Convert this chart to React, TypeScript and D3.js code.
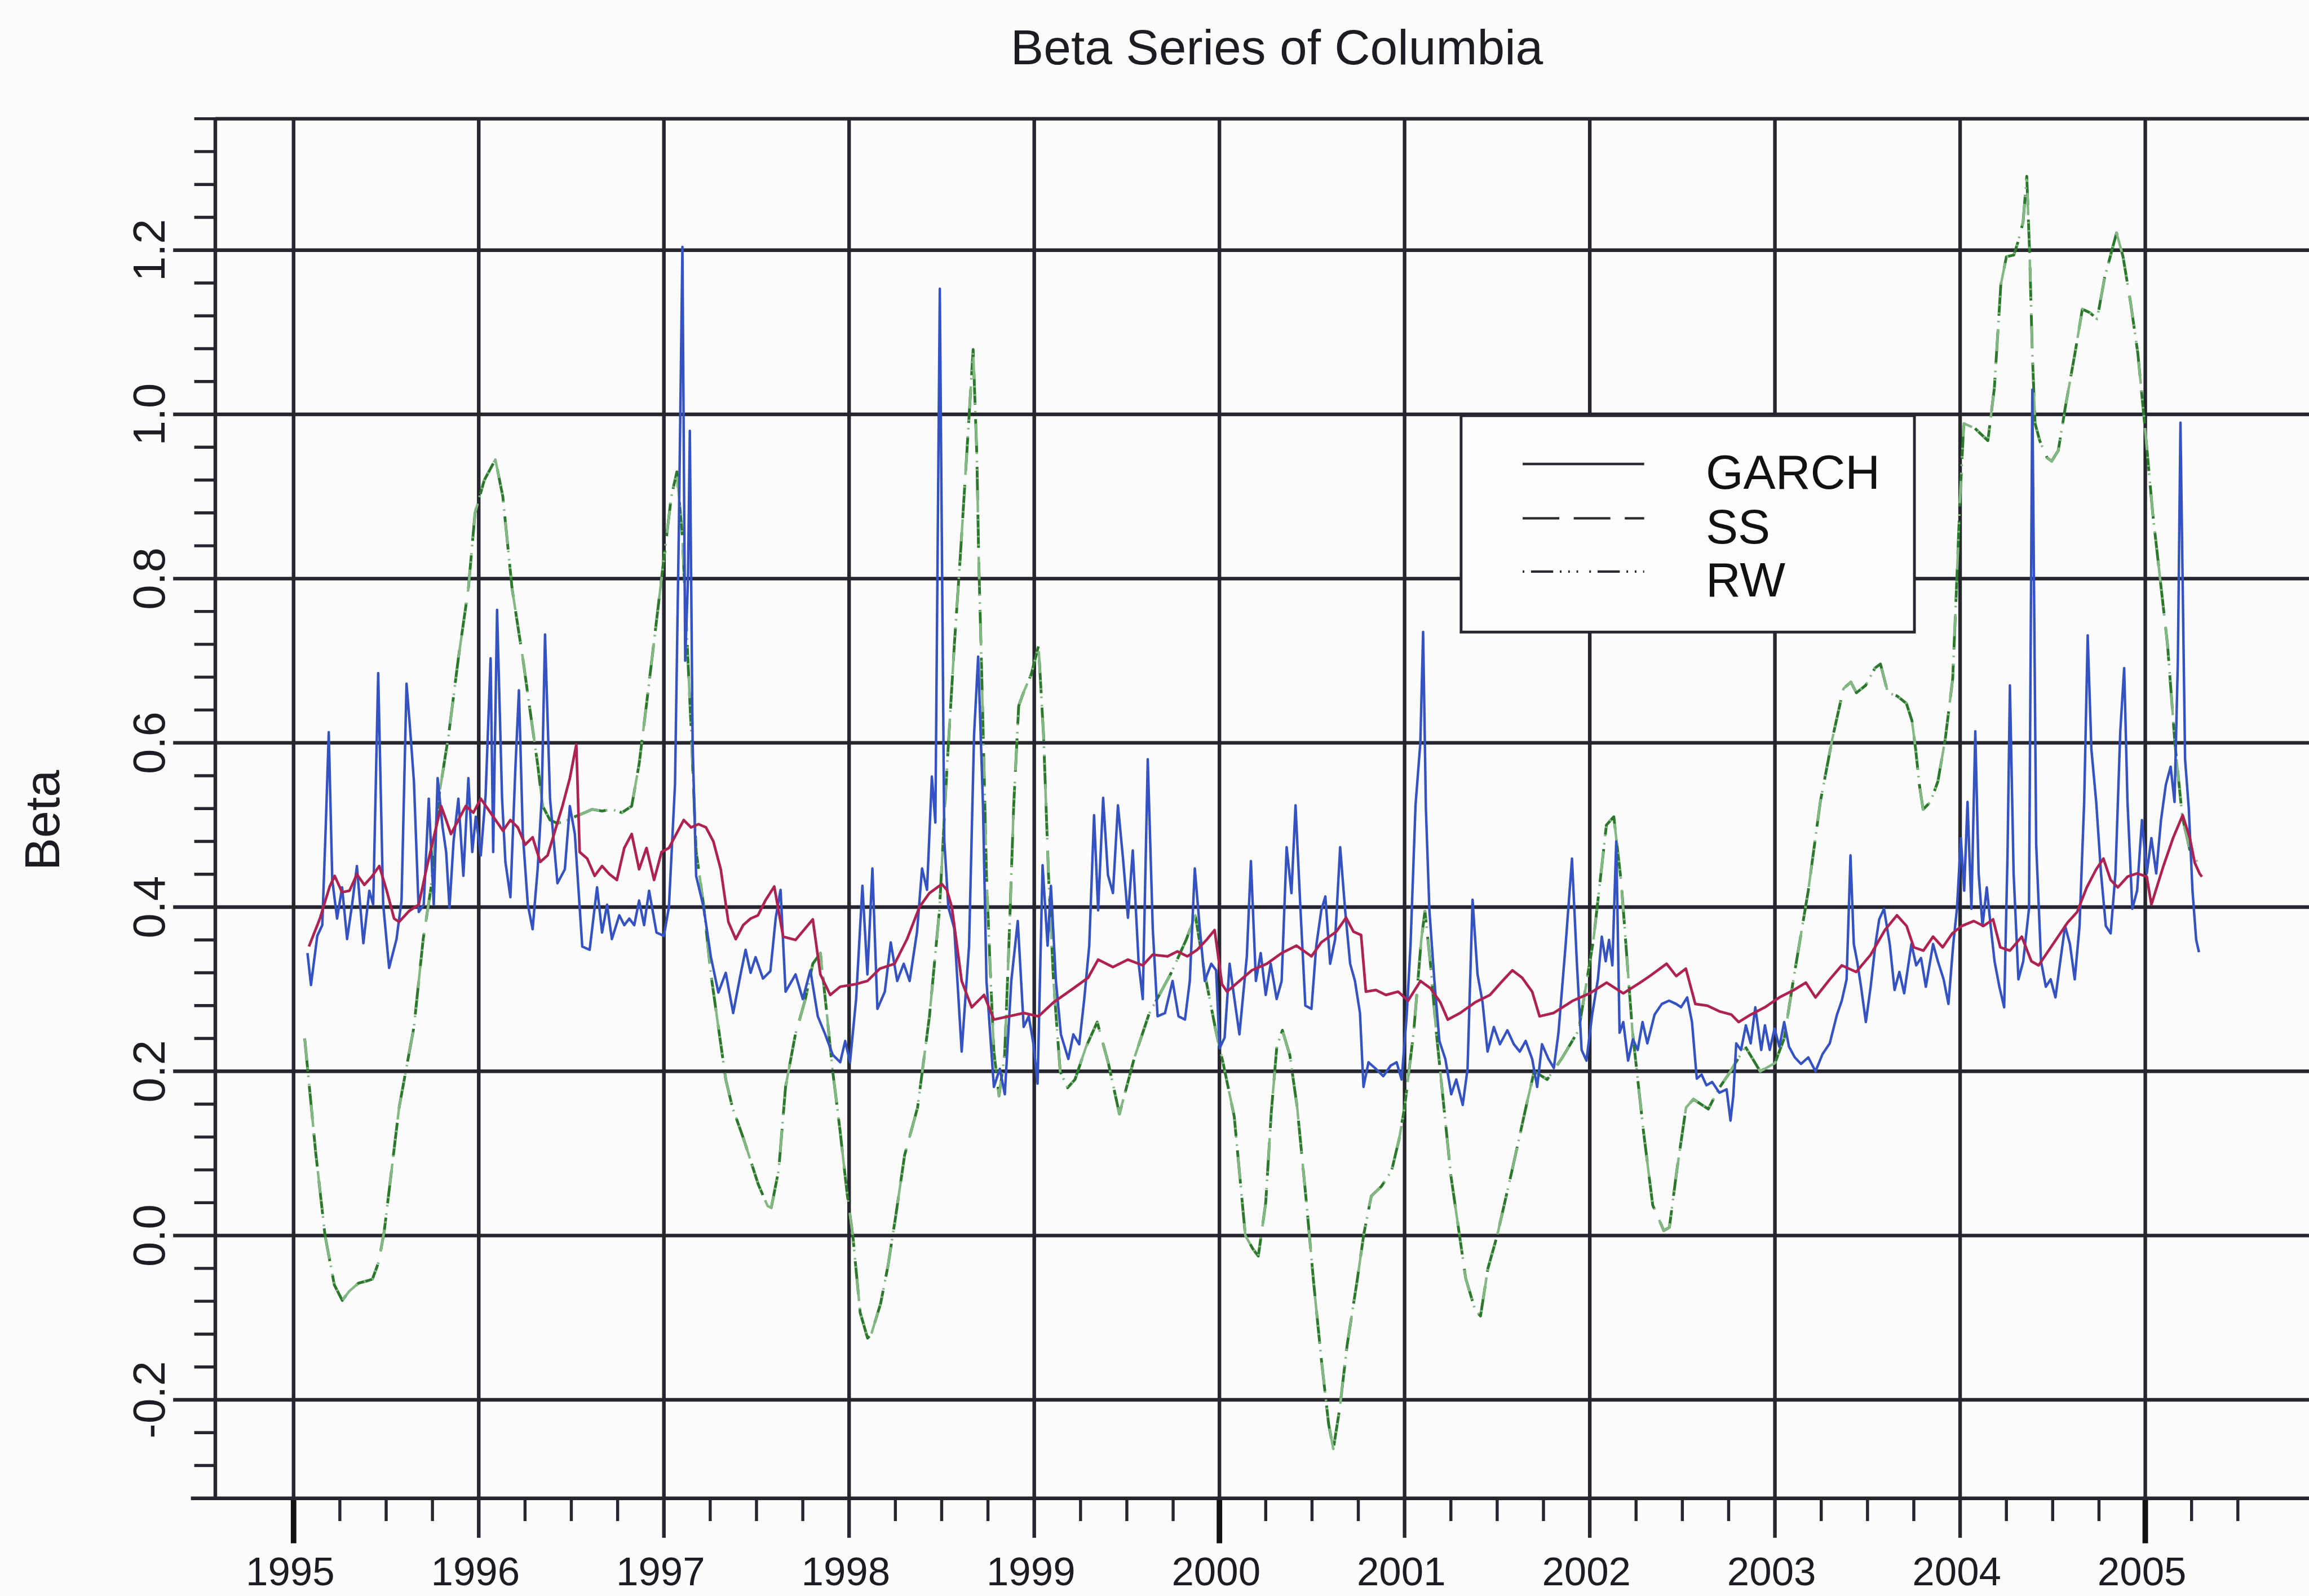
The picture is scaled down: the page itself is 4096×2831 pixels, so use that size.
import React from "react";
import * as d3 from "d3";

// Drawing units: the chart is laid out on a 4161 x 2876 canvas and scaled to the window.
const VIEW_W = 4161;
const VIEW_H = 2876;
const OUT_W = 4096;
const OUT_H = 2831;

const yearTicks = [1995, 1996, 1997, 1998, 1999, 2000, 2001, 2002, 2003, 2004, 2005];
const boldYears = [1995, 2000, 2005];
const betaTicks = [-0.2, 0.0, 0.2, 0.4, 0.6, 0.8, 1.0, 1.2];
const legendLabels = ["GARCH", "SS", "RW"];

// GARCH beta, [decimal year, beta]
const garchBeta: [number, number][] = [
  [1995.075,0.344],[1995.094,0.305],[1995.128,0.365],[1995.155,0.378],[1995.174,0.50],[1995.190,0.613],[1995.209,0.433],[1995.235,0.386],[1995.262,0.424],[1995.289,0.361],[1995.316,0.403],[1995.342,0.45],[1995.377,0.356],[1995.409,0.42],[1995.430,0.403],[1995.457,0.685],[1995.484,0.403],[1995.516,0.326],[1995.556,0.361],[1995.583,0.408],[1995.610,0.672],[1995.628,0.621],[1995.650,0.553],[1995.676,0.394],[1995.703,0.403],[1995.730,0.532],[1995.757,0.403],[1995.778,0.557],[1995.805,0.497],[1995.824,0.467],[1995.842,0.399],[1995.864,0.48],[1995.890,0.532],[1995.917,0.438],[1995.944,0.557],[1995.965,0.467],[1995.984,0.51],
  [1996.011,0.463],[1996.037,0.536],[1996.064,0.703],[1996.078,0.467],[1996.099,0.762],[1996.126,0.532],[1996.144,0.455],[1996.171,0.412],[1996.198,0.57],[1996.217,0.664],[1996.238,0.489],[1996.265,0.403],[1996.291,0.373],[1996.318,0.446],[1996.340,0.532],[1996.358,0.732],[1996.385,0.532],[1996.425,0.429],[1996.465,0.446],[1996.492,0.523],[1996.519,0.489],[1996.559,0.352],[1996.599,0.348],[1996.639,0.424],[1996.666,0.369],[1996.693,0.403],[1996.719,0.361],[1996.759,0.39],[1996.786,0.378],[1996.813,0.386],[1996.840,0.378],[1996.866,0.408],[1996.893,0.378],[1996.920,0.42],[1996.960,0.369],
  [1997.000,0.365],[1997.027,0.40],[1997.060,0.55],[1997.080,0.85],[1997.100,1.204],[1997.115,0.70],[1997.130,0.80],[1997.140,0.98],[1997.155,0.60],[1997.174,0.438],[1997.214,0.40],[1997.254,0.339],[1997.294,0.296],[1997.334,0.32],[1997.374,0.271],[1997.414,0.318],[1997.441,0.348],[1997.468,0.32],[1997.495,0.339],[1997.535,0.313],[1997.575,0.322],[1997.604,0.387],[1997.630,0.421],[1997.657,0.297],[1997.711,0.318],[1997.750,0.288],[1997.791,0.323],[1997.831,0.267],[1997.871,0.245],[1997.912,0.22],[1997.952,0.211],[1997.979,0.237],
  [1998.005,0.211],[1998.038,0.288],[1998.072,0.426],[1998.099,0.318],[1998.126,0.447],[1998.153,0.276],[1998.193,0.297],[1998.225,0.357],[1998.260,0.31],[1998.295,0.331],[1998.327,0.31],[1998.367,0.37],[1998.394,0.447],[1998.421,0.421],[1998.447,0.559],[1998.466,0.503],[1998.490,1.153],[1998.514,0.482],[1998.536,0.40],[1998.568,0.374],[1998.608,0.224],[1998.648,0.353],[1998.675,0.61],[1998.697,0.705],[1998.723,0.524],[1998.742,0.31],[1998.782,0.181],[1998.814,0.203],[1998.841,0.172],[1998.876,0.31],[1998.911,0.383],[1998.943,0.254],[1998.970,0.267],[1998.996,0.233],
  [1999.018,0.185],[1999.045,0.451],[1999.072,0.353],[1999.090,0.426],[1999.117,0.31],[1999.144,0.245],[1999.184,0.215],[1999.211,0.245],[1999.243,0.233],[1999.270,0.288],[1999.297,0.353],[1999.323,0.512],[1999.345,0.396],[1999.372,0.533],[1999.398,0.439],[1999.425,0.417],[1999.452,0.524],[1999.479,0.46],[1999.506,0.387],[1999.532,0.469],[1999.564,0.331],[1999.586,0.288],[1999.613,0.58],[1999.640,0.374],[1999.666,0.267],[1999.706,0.271],[1999.747,0.31],[1999.779,0.267],[1999.814,0.263],[1999.840,0.31],[1999.867,0.447],[1999.894,0.374],[1999.921,0.31],[1999.956,0.331],[1999.982,0.323],
  [2000.001,0.228],[2000.028,0.241],[2000.055,0.331],[2000.081,0.288],[2000.108,0.245],[2000.148,0.34],[2000.170,0.456],[2000.197,0.31],[2000.223,0.344],[2000.250,0.293],[2000.277,0.331],[2000.309,0.288],[2000.336,0.31],[2000.363,0.473],[2000.389,0.417],[2000.411,0.524],[2000.438,0.396],[2000.464,0.28],[2000.497,0.276],[2000.523,0.353],[2000.550,0.396],[2000.572,0.413],[2000.598,0.331],[2000.625,0.361],[2000.652,0.473],[2000.679,0.396],[2000.706,0.331],[2000.732,0.31],[2000.759,0.271],[2000.778,0.181],[2000.805,0.211],[2000.845,0.203],[2000.885,0.194],[2000.925,0.207],[2000.957,0.211],[2000.984,0.19],
  [2001.011,0.267],[2001.032,0.353],[2001.059,0.524],[2001.085,0.60],[2001.100,0.735],[2001.115,0.52],[2001.134,0.396],[2001.161,0.31],[2001.188,0.237],[2001.220,0.215],[2001.252,0.172],[2001.279,0.19],[2001.314,0.159],[2001.340,0.203],[2001.367,0.409],[2001.394,0.318],[2001.421,0.284],[2001.448,0.224],[2001.482,0.254],[2001.515,0.233],[2001.555,0.25],[2001.590,0.233],[2001.622,0.224],[2001.654,0.237],[2001.689,0.215],[2001.716,0.181],[2001.742,0.233],[2001.777,0.215],[2001.806,0.204],[2001.831,0.247],[2001.870,0.355],[2001.904,0.459],[2001.930,0.334],[2001.956,0.226],[2001.982,0.213],
  [2002.013,0.269],[2002.044,0.312],[2002.065,0.364],[2002.086,0.334],[2002.104,0.36],[2002.122,0.329],[2002.143,0.48],[2002.161,0.247],[2002.181,0.26],[2002.207,0.213],[2002.233,0.239],[2002.259,0.226],[2002.285,0.26],[2002.311,0.234],[2002.350,0.269],[2002.389,0.282],[2002.428,0.286],[2002.467,0.282],[2002.493,0.278],[2002.526,0.29],[2002.552,0.26],[2002.578,0.191],[2002.604,0.196],[2002.630,0.183],[2002.661,0.187],[2002.700,0.174],[2002.739,0.178],[2002.760,0.14],[2002.775,0.17],[2002.791,0.234],[2002.817,0.226],[2002.843,0.256],[2002.869,0.234],[2002.894,0.278],[2002.926,0.226],[2002.946,0.256],[2002.972,0.226],[2002.998,0.252],
  [2003.024,0.23],[2003.050,0.26],[2003.076,0.23],[2003.107,0.217],[2003.141,0.209],[2003.180,0.217],[2003.219,0.2],[2003.257,0.221],[2003.296,0.234],[2003.335,0.269],[2003.361,0.286],[2003.387,0.312],[2003.408,0.463],[2003.426,0.355],[2003.444,0.334],[2003.465,0.303],[2003.491,0.26],[2003.517,0.303],[2003.543,0.355],[2003.563,0.385],[2003.589,0.398],[2003.620,0.355],[2003.646,0.299],[2003.672,0.321],[2003.698,0.295],[2003.737,0.355],[2003.763,0.329],[2003.789,0.338],[2003.815,0.303],[2003.854,0.355],[2003.880,0.334],[2003.911,0.312],[2003.937,0.282],[2003.963,0.355],[2003.983,0.398],
  [2004.004,0.484],[2004.022,0.42],[2004.040,0.528],[2004.061,0.398],[2004.082,0.614],[2004.100,0.441],[2004.121,0.377],[2004.144,0.424],[2004.165,0.377],[2004.186,0.334],[2004.212,0.303],[2004.238,0.278],[2004.256,0.463],[2004.269,0.67],[2004.289,0.441],[2004.315,0.312],[2004.341,0.334],[2004.372,0.398],[2004.390,1.03],[2004.411,0.476],[2004.437,0.334],[2004.463,0.303],[2004.489,0.312],[2004.515,0.29],[2004.541,0.334],[2004.567,0.377],[2004.593,0.355],[2004.619,0.312],[2004.645,0.377],[2004.670,0.528],[2004.689,0.731],[2004.709,0.592],[2004.735,0.528],[2004.761,0.441],[2004.787,0.377],[2004.813,0.368],[2004.839,0.441],[2004.865,0.614],[2004.886,0.691],[2004.904,0.528],[2004.930,0.398],[2004.956,0.42],[2004.982,0.506],
  [2005.008,0.441],[2005.033,0.484],[2005.059,0.441],[2005.085,0.506],[2005.111,0.549],[2005.137,0.571],[2005.158,0.528],[2005.176,0.70],[2005.190,0.99],[2005.215,0.58],[2005.235,0.52],[2005.255,0.42],[2005.275,0.36],[2005.290,0.345],
];

// Rolling-window beta (crimson curve), [decimal year, beta]
const rollingBeta: [number, number][] = [
  [1995.083,0.352],[1995.142,0.386],[1995.195,0.425],[1995.222,0.438],[1995.262,0.418],[1995.302,0.42],[1995.342,0.44],[1995.382,0.427],[1995.422,0.437],[1995.463,0.45],[1995.503,0.42],[1995.543,0.386],[1995.570,0.382],[1995.623,0.395],[1995.676,0.403],[1995.717,0.446],[1995.757,0.485],[1995.797,0.523],[1995.824,0.506],[1995.850,0.489],[1995.890,0.506],[1995.930,0.523],[1995.971,0.515],
  [1996.011,0.532],[1996.051,0.519],[1996.091,0.506],[1996.131,0.493],[1996.171,0.506],[1996.211,0.497],[1996.251,0.476],[1996.291,0.485],[1996.332,0.455],[1996.372,0.463],[1996.412,0.493],[1996.452,0.523],[1996.492,0.557],[1996.527,0.598],[1996.545,0.467],[1996.586,0.459],[1996.626,0.438],[1996.666,0.45],[1996.706,0.44],[1996.746,0.433],[1996.786,0.472],[1996.826,0.489],[1996.866,0.446],[1996.906,0.472],[1996.947,0.433],[1996.987,0.467],
  [1997.027,0.472],[1997.067,0.489],[1997.107,0.506],[1997.147,0.497],[1997.187,0.501],[1997.227,0.497],[1997.267,0.48],[1997.307,0.446],[1997.348,0.382],[1997.388,0.361],[1997.428,0.378],[1997.468,0.386],[1997.508,0.39],[1997.548,0.408],[1997.596,0.425],[1997.644,0.364],[1997.711,0.36],[1997.804,0.385],[1997.845,0.318],[1997.898,0.293],[1997.952,0.303],
  [1998.032,0.306],[1998.099,0.31],[1998.166,0.325],[1998.246,0.331],[1998.313,0.361],[1998.380,0.40],[1998.434,0.417],[1998.501,0.428],[1998.528,0.421],[1998.555,0.40],[1998.608,0.31],[1998.662,0.278],[1998.729,0.293],[1998.782,0.263],[1998.863,0.267],[1998.943,0.271],
  [1999.023,0.267],[1999.104,0.284],[1999.211,0.301],[1999.291,0.314],[1999.345,0.336],[1999.425,0.327],[1999.506,0.336],[1999.586,0.329],[1999.639,0.342],[1999.720,0.34],[1999.773,0.346],[1999.827,0.34],[1999.880,0.348],[1999.934,0.361],[1999.974,0.372],
  [2000.014,0.306],[2000.041,0.297],[2000.108,0.31],[2000.175,0.323],[2000.256,0.331],[2000.336,0.344],[2000.416,0.353],[2000.497,0.34],[2000.550,0.357],[2000.631,0.37],[2000.684,0.387],[2000.724,0.37],[2000.765,0.366],[2000.791,0.297],[2000.845,0.299],[2000.899,0.293],[2000.965,0.297],
  [2001.019,0.286],[2001.086,0.31],[2001.140,0.301],[2001.193,0.284],[2001.233,0.263],[2001.300,0.271],[2001.381,0.284],[2001.461,0.293],[2001.528,0.31],[2001.582,0.323],[2001.635,0.314],[2001.689,0.297],[2001.729,0.267],[2001.804,0.271],[2001.909,0.286],
  [2002.000,0.295],[2002.091,0.308],[2002.181,0.295],[2002.272,0.308],[2002.324,0.316],[2002.415,0.331],[2002.467,0.316],[2002.519,0.325],[2002.570,0.282],[2002.635,0.28],[2002.700,0.273],[2002.765,0.269],[2002.804,0.26],[2002.869,0.269],[2002.946,0.278],
  [2003.024,0.29],[2003.102,0.299],[2003.167,0.308],[2003.219,0.29],[2003.296,0.312],[2003.361,0.329],[2003.439,0.321],[2003.517,0.342],[2003.594,0.372],[2003.659,0.39],[2003.711,0.377],[2003.750,0.351],[2003.802,0.347],[2003.854,0.364],[2003.906,0.351],[2003.958,0.368],
  [2004.009,0.377],[2004.074,0.383],[2004.126,0.377],[2004.178,0.385],[2004.217,0.351],[2004.269,0.347],[2004.333,0.364],[2004.385,0.334],[2004.424,0.329],[2004.502,0.355],[2004.580,0.381],[2004.632,0.394],[2004.684,0.424],[2004.735,0.446],[2004.774,0.459],[2004.813,0.433],[2004.852,0.424],[2004.904,0.437],[2004.956,0.441],
  [2005.008,0.437],[2005.033,0.403],[2005.098,0.45],[2005.150,0.484],[2005.202,0.512],[2005.241,0.484],[2005.267,0.454],[2005.293,0.441],[2005.306,0.437],
];

// SS beta (dashed), [decimal year, beta]
const ssBeta: [number, number][] = [
  [1995.060,0.24],[1995.120,0.10],[1995.170,0.0],[1995.220,-0.06],[1995.263,-0.079],[1995.300,-0.068],[1995.350,-0.058],[1995.400,-0.055],[1995.426,-0.053],[1995.460,-0.032],[1995.490,0.006],[1995.530,0.081],[1995.570,0.156],[1995.650,0.254],[1995.700,0.361],[1995.743,0.425],[1995.783,0.532],[1995.837,0.609],[1995.890,0.703],[1995.944,0.788],[1995.980,0.88],
  [1996.030,0.92],[1996.090,0.945],[1996.130,0.90],[1996.180,0.788],[1996.238,0.703],[1996.278,0.638],[1996.318,0.574],[1996.345,0.523],[1996.385,0.506],[1996.425,0.502],[1996.479,0.506],[1996.519,0.51],[1996.572,0.515],[1996.612,0.519],[1996.666,0.517],[1996.719,0.519],[1996.773,0.515],[1996.826,0.523],[1996.866,0.574],[1996.906,0.647],[1996.947,0.724],[1996.987,0.80],
  [1997.040,0.90],[1997.070,0.93],[1997.100,0.85],[1997.130,0.70],[1997.147,0.617],[1997.174,0.468],[1997.214,0.403],[1997.254,0.318],[1997.294,0.254],[1997.334,0.19],[1997.370,0.156],[1997.430,0.118],[1997.510,0.062],[1997.560,0.036],[1997.580,0.034],[1997.620,0.08],[1997.657,0.181],[1997.710,0.245],[1997.764,0.288],[1997.804,0.331],[1997.845,0.344],[1997.880,0.27],[1997.910,0.203],[1997.950,0.13],[1997.990,0.05],
  [1998.020,0.0],[1998.060,-0.094],[1998.100,-0.125],[1998.120,-0.12],[1998.170,-0.083],[1998.210,-0.037],[1998.250,0.021],[1998.300,0.098],[1998.370,0.156],[1998.434,0.267],[1998.488,0.396],[1998.528,0.567],[1998.568,0.718],[1998.600,0.825],[1998.635,0.95],[1998.670,1.079],[1998.690,0.95],[1998.700,0.825],[1998.715,0.696],[1998.729,0.567],[1998.742,0.439],[1998.761,0.331],[1998.782,0.224],[1998.810,0.17],[1998.840,0.22],[1998.863,0.353],[1998.889,0.524],[1998.916,0.645],[1998.943,0.662],[1998.983,0.683],
  [1999.023,0.718],[1999.050,0.61],[1999.077,0.439],[1999.104,0.31],[1999.140,0.20],[1999.180,0.18],[1999.220,0.19],[1999.280,0.23],[1999.340,0.26],[1999.400,0.21],[1999.460,0.148],[1999.540,0.216],[1999.620,0.27],[1999.740,0.32],[1999.820,0.36],[1999.870,0.39],[1999.920,0.32],[1999.980,0.25],
  [2000.020,0.21],[2000.080,0.145],[2000.140,0.0],[2000.180,-0.016],[2000.210,-0.025],[2000.250,0.04],[2000.280,0.15],[2000.310,0.23],[2000.340,0.25],[2000.380,0.22],[2000.420,0.156],[2000.470,0.04],[2000.510,-0.06],[2000.550,-0.15],[2000.590,-0.23],[2000.615,-0.26],[2000.650,-0.21],[2000.690,-0.133],[2000.743,-0.056],[2000.780,0.002],[2000.820,0.048],[2000.875,0.06],[2000.930,0.079],[2000.970,0.117],
  [2001.000,0.156],[2001.050,0.25],[2001.090,0.36],[2001.110,0.395],[2001.140,0.33],[2001.170,0.25],[2001.250,0.073],[2001.330,-0.052],[2001.380,-0.09],[2001.410,-0.098],[2001.450,-0.04],[2001.500,0.0],[2001.580,0.079],[2001.655,0.156],[2001.700,0.20],[2001.770,0.19],[2001.850,0.216],[2001.940,0.25],
  [2002.020,0.36],[2002.090,0.50],[2002.130,0.51],[2002.170,0.43],[2002.230,0.25],[2002.290,0.127],[2002.340,0.037],[2002.400,0.006],[2002.430,0.01],[2002.470,0.079],[2002.520,0.156],[2002.560,0.166],[2002.640,0.154],[2002.700,0.18],[2002.760,0.20],[2002.840,0.23],[2002.920,0.20],
  [2003.000,0.21],[2003.050,0.24],[2003.100,0.312],[2003.180,0.42],[2003.245,0.528],[2003.310,0.605],[2003.370,0.666],[2003.410,0.674],[2003.440,0.661],[2003.490,0.67],[2003.540,0.691],[2003.570,0.696],[2003.610,0.661],[2003.660,0.657],[2003.710,0.648],[2003.740,0.627],[2003.760,0.592],[2003.780,0.549],[2003.800,0.519],[2003.840,0.528],[2003.880,0.553],[2003.920,0.605],[2003.960,0.678],[2003.980,0.786],
  [2004.000,0.90],[2004.020,0.989],[2004.080,0.983],[2004.150,0.968],[2004.185,1.032],[2004.220,1.158],[2004.250,1.192],[2004.290,1.194],[2004.310,1.208],[2004.340,1.234],[2004.360,1.29],[2004.375,1.20],[2004.390,1.074],[2004.405,0.989],[2004.430,0.968],[2004.470,0.947],[2004.495,0.943],[2004.530,0.956],[2004.570,1.011],[2004.620,1.074],[2004.660,1.128],[2004.700,1.124],[2004.740,1.116],[2004.780,1.166],[2004.820,1.20],[2004.845,1.221],[2004.880,1.192],[2004.920,1.137],[2004.960,1.074],
  [2005.000,0.98],[2005.040,0.88],[2005.080,0.80],[2005.120,0.72],[2005.160,0.60],[2005.200,0.51],[2005.240,0.47],[2005.280,0.455],
];

// RW beta (dash-dot), [decimal year, beta]
const rwBeta: [number, number][] = [
  [1995.060,0.24],[1995.120,0.10],[1995.170,0.0],[1995.220,-0.06],[1995.263,-0.079],[1995.300,-0.068],[1995.350,-0.058],[1995.400,-0.055],[1995.426,-0.053],[1995.460,-0.032],[1995.490,0.006],[1995.530,0.081],[1995.570,0.156],[1995.650,0.254],[1995.700,0.361],[1995.743,0.425],[1995.783,0.532],[1995.837,0.609],[1995.890,0.703],[1995.944,0.788],[1995.980,0.88],
  [1996.030,0.92],[1996.090,0.945],[1996.130,0.90],[1996.180,0.788],[1996.238,0.703],[1996.278,0.638],[1996.318,0.574],[1996.345,0.523],[1996.385,0.506],[1996.425,0.502],[1996.479,0.506],[1996.519,0.51],[1996.572,0.515],[1996.612,0.519],[1996.666,0.517],[1996.719,0.519],[1996.773,0.515],[1996.826,0.523],[1996.866,0.574],[1996.906,0.647],[1996.947,0.724],[1996.987,0.80],
  [1997.040,0.90],[1997.070,0.93],[1997.100,0.85],[1997.130,0.70],[1997.147,0.617],[1997.174,0.468],[1997.214,0.403],[1997.254,0.318],[1997.294,0.254],[1997.334,0.19],[1997.370,0.156],[1997.430,0.118],[1997.510,0.062],[1997.560,0.036],[1997.580,0.034],[1997.620,0.08],[1997.657,0.181],[1997.710,0.245],[1997.764,0.288],[1997.804,0.331],[1997.845,0.344],[1997.880,0.27],[1997.910,0.203],[1997.950,0.13],[1997.990,0.05],
  [1998.020,0.0],[1998.060,-0.094],[1998.100,-0.125],[1998.120,-0.12],[1998.170,-0.083],[1998.210,-0.037],[1998.250,0.021],[1998.300,0.098],[1998.370,0.156],[1998.434,0.267],[1998.488,0.396],[1998.528,0.567],[1998.568,0.718],[1998.600,0.825],[1998.635,0.95],[1998.670,1.079],[1998.690,0.95],[1998.700,0.825],[1998.715,0.696],[1998.729,0.567],[1998.742,0.439],[1998.761,0.331],[1998.782,0.224],[1998.810,0.17],[1998.840,0.22],[1998.863,0.353],[1998.889,0.524],[1998.916,0.645],[1998.943,0.662],[1998.983,0.683],
  [1999.023,0.718],[1999.050,0.61],[1999.077,0.439],[1999.104,0.31],[1999.140,0.20],[1999.180,0.18],[1999.220,0.19],[1999.280,0.23],[1999.340,0.26],[1999.400,0.21],[1999.460,0.148],[1999.540,0.216],[1999.620,0.27],[1999.740,0.32],[1999.820,0.36],[1999.870,0.39],[1999.920,0.32],[1999.980,0.25],
  [2000.020,0.21],[2000.080,0.145],[2000.140,0.0],[2000.180,-0.016],[2000.210,-0.025],[2000.250,0.04],[2000.280,0.15],[2000.310,0.23],[2000.340,0.25],[2000.380,0.22],[2000.420,0.156],[2000.470,0.04],[2000.510,-0.06],[2000.550,-0.15],[2000.590,-0.23],[2000.615,-0.26],[2000.650,-0.21],[2000.690,-0.133],[2000.743,-0.056],[2000.780,0.002],[2000.820,0.048],[2000.875,0.06],[2000.930,0.079],[2000.970,0.117],
  [2001.000,0.156],[2001.050,0.25],[2001.090,0.36],[2001.110,0.395],[2001.140,0.33],[2001.170,0.25],[2001.250,0.073],[2001.330,-0.052],[2001.380,-0.09],[2001.410,-0.098],[2001.450,-0.04],[2001.500,0.0],[2001.580,0.079],[2001.655,0.156],[2001.700,0.20],[2001.770,0.19],[2001.850,0.216],[2001.940,0.25],
  [2002.020,0.36],[2002.090,0.50],[2002.130,0.51],[2002.170,0.43],[2002.230,0.25],[2002.290,0.127],[2002.340,0.037],[2002.400,0.006],[2002.430,0.01],[2002.470,0.079],[2002.520,0.156],[2002.560,0.166],[2002.640,0.154],[2002.700,0.18],[2002.760,0.20],[2002.840,0.23],[2002.920,0.20],
  [2003.000,0.21],[2003.050,0.24],[2003.100,0.312],[2003.180,0.42],[2003.245,0.528],[2003.310,0.605],[2003.370,0.666],[2003.410,0.674],[2003.440,0.661],[2003.490,0.67],[2003.540,0.691],[2003.570,0.696],[2003.610,0.661],[2003.660,0.657],[2003.710,0.648],[2003.740,0.627],[2003.760,0.592],[2003.780,0.549],[2003.800,0.519],[2003.840,0.528],[2003.880,0.553],[2003.920,0.605],[2003.960,0.678],[2003.980,0.786],
  [2004.000,0.90],[2004.020,0.989],[2004.080,0.983],[2004.150,0.968],[2004.185,1.032],[2004.220,1.158],[2004.250,1.192],[2004.290,1.194],[2004.310,1.208],[2004.340,1.234],[2004.360,1.29],[2004.375,1.20],[2004.390,1.074],[2004.405,0.989],[2004.430,0.968],[2004.470,0.947],[2004.495,0.943],[2004.530,0.956],[2004.570,1.011],[2004.620,1.074],[2004.660,1.128],[2004.700,1.124],[2004.740,1.116],[2004.780,1.166],[2004.820,1.20],[2004.845,1.221],[2004.880,1.192],[2004.920,1.137],[2004.960,1.074],
  [2005.000,0.98],[2005.040,0.88],[2005.080,0.80],[2005.120,0.72],[2005.160,0.60],[2005.200,0.51],[2005.240,0.47],[2005.280,0.455],
];

// Frame geometry
const PLOT_LEFT = 388;
const PLOT_TOP = 214;
const PLOT_BOTTOM = 2700;
const PLOT_RIGHT = VIEW_W;

const x = d3.scaleLinear().domain([1995, 2005]).range([529, 3866]);
const y = d3.scaleLinear().domain([-0.32, 1.36]).range([PLOT_BOTTOM, PLOT_TOP]);

const line = d3
  .line<[number, number]>()
  .x((d) => x(d[0]))
  .y((d) => y(d[1]));

const INK = "#25262e";
const GRID_W = 6.5;
const FONT = "'Liberation Sans', Arial, Helvetica, sans-serif";

const legendStyles: Record<string, { dash?: string }> = {
  GARCH: {},
  SS: { dash: "66 26" },
  RW: { dash: "3 12 40 12 3 12 3 12 3 20" },
};

export default function App() {
  const minorY = d3
    .range(-8, 35)
    .map((i) => Math.round(i * 4) / 100)
    .filter((v) => Math.abs(Math.round(v * 5) - v * 5) > 1e-6);
  const minorX = d3
    .range(1, 43)
    .map((i) => 1995 + i * 0.25)
    .filter((v) => v % 1 !== 0 && v <= 2005.5);

  const legend = { left: 2633, top: 749, right: 3450, bottom: 1139 };
  const legendRowY = [836, 934, 1030];

  return (
    <svg
      width={OUT_W}
      height={OUT_H}
      viewBox={`0 0 ${VIEW_W} ${VIEW_H}`}
      style={{ position: "absolute", left: 0, top: 0, display: "block" }}
      fontFamily={FONT}
    >
      <rect x={0} y={0} width={VIEW_W} height={VIEW_H} fill="#fcfcfd" />

      {/* Title */}
      <text x={2301} y={116} fontSize={89} textAnchor="middle" fill="#1c1c22">
        Beta Series of Columbia
      </text>

      {/* Horizontal grid lines with their major ticks */}
      {betaTicks.map((v) => (
        <line
          key={`hg${v}`}
          x1={312}
          x2={PLOT_RIGHT}
          y1={y(v)}
          y2={y(v)}
          stroke={INK}
          strokeWidth={GRID_W}
        />
      ))}
      {/* Minor y ticks */}
      {minorY.map((v) => (
        <line
          key={`my${v}`}
          x1={350}
          x2={PLOT_LEFT}
          y1={y(v)}
          y2={y(v)}
          stroke={INK}
          strokeWidth={5.5}
        />
      ))}

      {/* Vertical grid lines, continuing below as year ticks */}
      {yearTicks.map((yr) => (
        <line
          key={`vg${yr}`}
          x1={x(yr)}
          x2={x(yr)}
          y1={PLOT_TOP}
          y2={2771}
          stroke={INK}
          strokeWidth={GRID_W}
        />
      ))}
      {/* Heavier ticks every five years */}
      {boldYears.map((yr) => (
        <line
          key={`bt${yr}`}
          x1={x(yr)}
          x2={x(yr)}
          y1={PLOT_BOTTOM}
          y2={2781}
          stroke="#111"
          strokeWidth={10}
        />
      ))}
      {/* Quarterly ticks */}
      {minorX.map((v) => (
        <line
          key={`mx${v}`}
          x1={x(v)}
          x2={x(v)}
          y1={PLOT_BOTTOM}
          y2={2741}
          stroke={INK}
          strokeWidth={5.5}
        />
      ))}

      {/* Frame */}
      <line x1={PLOT_LEFT} x2={PLOT_RIGHT} y1={PLOT_TOP} y2={PLOT_TOP} stroke={INK} strokeWidth={GRID_W} />
      <line x1={PLOT_LEFT} x2={PLOT_LEFT} y1={PLOT_TOP} y2={PLOT_BOTTOM} stroke={INK} strokeWidth={GRID_W} />
      <line x1={344} x2={PLOT_RIGHT} y1={PLOT_BOTTOM} y2={PLOT_BOTTOM} stroke={INK} strokeWidth={GRID_W} />

      {/* Y tick labels */}
      {betaTicks.map((v) => (
        <text
          key={`yl${v}`}
          transform={`translate(297, ${y(v)}) rotate(-90)`}
          textAnchor="middle"
          fontSize={81}
          fill="#1c1c22"
        >
          {v.toFixed(1)}
        </text>
      ))}
      <text
        transform={`translate(107, 1478) rotate(-90)`}
        textAnchor="middle"
        fontSize={88}
        fill="#1c1c22"
      >
        Beta
      </text>

      {/* X tick labels */}
      {yearTicks.map((yr) => (
        <text key={`xl${yr}`} x={x(yr) - 6} y={2857} textAnchor="middle" fontSize={72} fill="#1c1c22">
          {yr}
        </text>
      ))}

      {/* Series */}
      <path
        d={line(ssBeta) ?? ""}
        fill="none"
        stroke="#2b772b"
        strokeWidth={5}
        strokeDasharray="60 26"
        strokeLinejoin="round"
      />
      <path
        d={line(rwBeta) ?? ""}
        fill="none"
        stroke="#83b883"
        strokeWidth={4.5}
        strokeDasharray="40 12 3 12 3 12 3 12 3 20"
        strokeLinejoin="round"
      />
      <path
        d={line(garchBeta) ?? ""}
        fill="none"
        stroke="#3452c2"
        strokeWidth={4.5}
        strokeLinejoin="round"
      />
      <path
        d={line(rollingBeta) ?? ""}
        fill="none"
        stroke="#ad2250"
        strokeWidth={4.8}
        strokeLinejoin="round"
      />

      {/* Legend */}
      <rect
        x={legend.left}
        y={legend.top}
        width={legend.right - legend.left}
        height={legend.bottom - legend.top}
        fill="#fdfdfe"
        stroke={INK}
        strokeWidth={5}
      />
      {legendLabels.map((label, i) => (
        <g key={label}>
          <line
            x1={2744}
            x2={2963}
            y1={legendRowY[i]}
            y2={legendRowY[i]}
            stroke="#2a2a30"
            strokeWidth={4.5}
            strokeDasharray={legendStyles[label].dash}
          />
          <text x={3074} y={legendRowY[i] + 45} fontSize={87} fill="#111">
            {label}
          </text>
        </g>
      ))}
    </svg>
  );
}
